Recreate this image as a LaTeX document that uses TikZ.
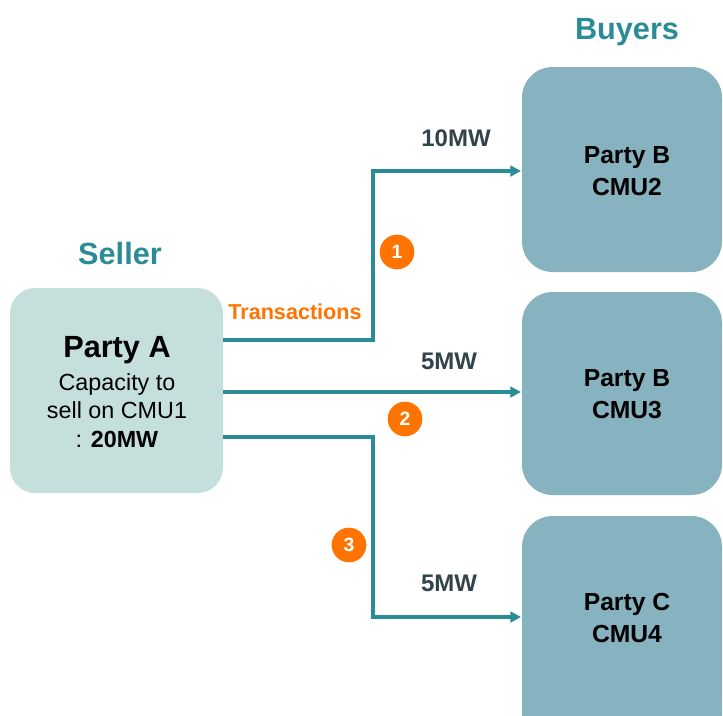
\documentclass[tikz,border=0pt]{standalone}
\usepackage{fontspec}
\setmainfont{Liberation Sans}
\usetikzlibrary{arrows.meta}
\definecolor{teal}{HTML}{2A8C97}
\definecolor{sellerfill}{HTML}{C5E0DC}
\definecolor{buyerfill}{HTML}{87B2C0}
\definecolor{orng}{HTML}{FF7300}
\definecolor{mwgray}{HTML}{33434A}
\newcommand{\fs}[1]{\fontsize{#1}{1.28\dimexpr#1\relax}\selectfont}
\tikzset{
  flow/.style={draw=teal, line width=2.3pt, -{Triangle[length=8pt,width=8pt]}},
  badge/.style={circle, fill=orng, minimum size=26pt, inner sep=0pt,
    text=white, font=\bfseries\fs{14.5pt}},
  mw/.style={text=mwgray, font=\bfseries\fs{18pt}},
  heading/.style={text=teal, font=\bfseries\fs{23pt}},
  buyertext/.style={align=center, font=\bfseries\fs{18.5pt}},
}
\begin{document}
\begin{tikzpicture}[x=0.75pt, y=-0.75pt]
\useasboundingbox (0,0) rectangle (723,715);
\clip (0,0) rectangle (723,715);

% seller
\fill[sellerfill, rounded corners=19pt] (10,288) rectangle (223,493);
\node[heading] (seller) at (120,254) {Seller};
\node[align=center, text=black, font=\fs{17.5pt}, inner sep=0pt] (atext) at (117,392)
  {{\bfseries\fs{23pt}Party A}\\[2pt] Capacity to\\[-1pt] sell on CMU1\\[-1pt] : \textbf{20MW}};

% buyers
\node[heading] (buyers) at (627,32) {Buyers};
\fill[buyerfill, rounded corners=23pt] (522,67) rectangle (722,272);
\fill[buyerfill, rounded corners=23pt] (522,292) rectangle (722,495);
\fill[buyerfill, rounded corners=23pt] (522,516) rectangle (722,745);
\node[buyertext] (b1) at (627,171) {Party B\\CMU2};
\node[buyertext] (b2) at (627,394) {Party B\\CMU3};
\node[buyertext] (b3) at (627,618) {Party C\\CMU4};

% connector endpoints
\coordinate (s1) at (223,340);
\coordinate (s2) at (223,392);
\coordinate (s3) at (223,437);
\coordinate (e1) at (521,171);
\coordinate (e2) at (521,392);
\coordinate (e3) at (521,617);

\draw[flow] (s1) -- (373,340) -- (373,171) -- (e1);
\draw[flow] (s2) -- (e2);
\draw[flow] (s3) -- (373,437) -- (373,617) -- (e3);

\node[text=orng, font=\bfseries\fs{16.2pt}] (trans) at (295,312) {Transactions};
\node[mw] (mw1) at (456,138) {10MW};
\node[mw] (mw2) at (449,361) {5MW};
\node[mw] (mw3) at (449,583) {5MW};

\node[badge] (n1) at (397,252) {1};
\node[badge] (n2) at (405,419) {2};
\node[badge] (n3) at (349,545) {3};
\end{tikzpicture}
\end{document}
